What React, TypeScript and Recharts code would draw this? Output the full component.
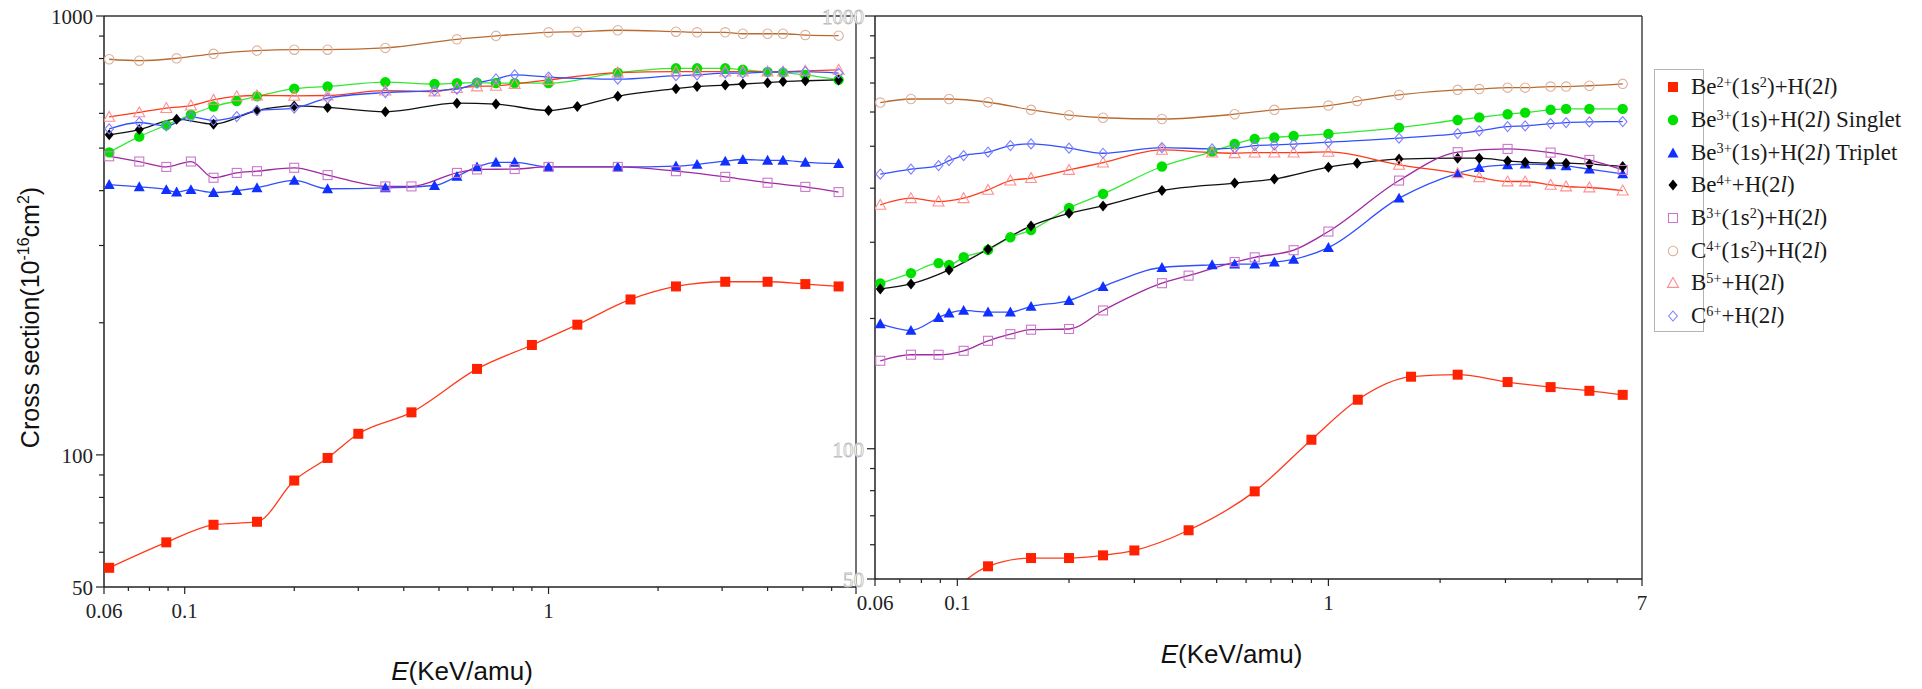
import React from "react";
import { LineChart, Line, XAxis, YAxis, ReferenceLine } from "recharts";

const SERIF = '"Liberation Serif", "Times New Roman", serif';
const SANS = '"Liberation Sans", Arial, sans-serif';

// axis ticks
const xTicks = [0.06, 0.07, 0.08, 0.09, 0.1, 0.2, 0.3, 0.4, 0.5, 0.6, 0.7, 0.8, 0.9, 1, 2, 3, 4, 5, 6, 7];
const xMajor = [0.06, 0.1, 1, 7];
const leftXLabels = [0.06, 0.1, 1];
const rightXLabels = [0.06, 0.1, 1, 7];
const yTicks = [50, 60, 70, 80, 90, 100, 200, 300, 400, 500, 600, 700, 800, 900, 1000];
const yLabels = [50, 100, 1000];

// ---- left panel (E in keV/amu, cross section in 1e-16 cm^2)
const leftBe2Energy = [0.062, 0.089, 0.12, 0.158, 0.2, 0.247, 0.3, 0.42, 0.636, 0.9, 1.2, 1.68, 2.24, 3.06, 4.0, 5.08, 6.27];
const leftBe2Sigma = [55.3, 63.2, 69.3, 70.4, 87.4, 98.4, 111.7, 125, 157, 178, 198, 226, 242, 248, 248, 245, 242];

const leftSingletEnergy = [0.062, 0.075, 0.089, 0.104, 0.12, 0.139, 0.158, 0.2, 0.247, 0.356, 0.486, 0.56, 0.636, 0.717, 0.807, 1.0, 1.55, 2.24, 2.56, 3.06, 3.42, 4.0, 4.41, 5.08, 6.27];
const leftSingletSigma = [489, 531, 564, 596, 622, 640, 656, 683, 691, 707, 700, 703, 705, 703, 703, 703, 743, 760, 760, 760, 754, 746, 743, 734, 715];

const leftTripletEnergy = [0.062, 0.075, 0.089, 0.095, 0.104, 0.12, 0.139, 0.158, 0.2, 0.247, 0.356, 0.486, 0.56, 0.636, 0.717, 0.807, 1.0, 1.55, 2.24, 2.56, 3.06, 3.42, 4.0, 4.41, 5.08, 6.27];
const leftTripletSigma = [413, 408, 402, 397, 402, 396, 400, 406, 422, 404, 406, 411, 431, 453, 464, 464, 453, 453, 455, 459, 467, 471, 469, 469, 464, 461];

const leftBe4Energy = [0.062, 0.075, 0.095, 0.12, 0.158, 0.2, 0.247, 0.356, 0.56, 0.717, 1.0, 1.2, 1.55, 2.24, 2.56, 3.06, 3.42, 4.0, 4.41, 5.08, 6.27];
const leftBe4Sigma = [536, 551, 582, 567, 609, 624, 619, 605, 633, 630, 609, 622, 656, 683, 691, 696, 700, 705, 709, 712, 715];

const leftB3Energy = [0.062, 0.075, 0.089, 0.104, 0.12, 0.139, 0.158, 0.2, 0.247, 0.356, 0.42, 0.56, 0.636, 0.807, 1.0, 1.55, 2.24, 3.06, 4.0, 5.08, 6.27];
const leftB3Sigma = [479, 466, 453, 466, 428, 439, 443, 451, 434, 409, 409, 439, 447, 448, 453, 453, 443, 430, 417, 408, 397];

const leftC4Energy = [0.062, 0.075, 0.095, 0.12, 0.158, 0.2, 0.247, 0.356, 0.56, 0.717, 1.0, 1.2, 1.55, 2.24, 2.56, 3.06, 3.42, 4.0, 4.41, 5.08, 6.27];
const leftC4Sigma = [797, 791, 801, 820, 834, 838, 838, 846, 885, 901, 918, 921, 928, 921, 918, 918, 911, 911, 911, 905, 902];

const leftB5Energy = [0.062, 0.075, 0.089, 0.104, 0.12, 0.139, 0.158, 0.2, 0.247, 0.356, 0.486, 0.56, 0.636, 0.717, 0.807, 1.0, 1.55, 2.24, 2.56, 3.06, 3.42, 4.0, 4.41, 5.08, 6.27];
const leftB5Sigma = [589, 603, 617, 625, 644, 656, 659, 658, 659, 676, 673, 685, 691, 693, 700, 715, 743, 747, 747, 747, 747, 747, 747, 750, 754];

const leftC6Energy = [0.062, 0.075, 0.089, 0.104, 0.12, 0.139, 0.158, 0.2, 0.247, 0.356, 0.486, 0.56, 0.636, 0.717, 0.807, 1.0, 1.55, 2.24, 2.56, 3.06, 3.42, 4.0, 4.41, 5.08, 6.27];
const leftC6Sigma = [553, 572, 562, 589, 578, 590, 609, 617, 650, 669, 676, 681, 703, 719, 734, 726, 718, 731, 734, 741, 741, 745, 745, 747, 741];

// ---- right panel
const rightBe2Energy = [0.095, 0.121, 0.158, 0.2, 0.247, 0.3, 0.42, 0.633, 0.9, 1.2, 1.67, 2.23, 3.04, 3.97, 5.05, 6.21];
const rightBe2Sigma = [46, 53.5, 55.9, 55.9, 56.7, 58.2, 64.8, 79.7, 104.9, 129.8, 146.7, 148.3, 142.6, 138.8, 136.1, 133.2];

const rightSingletEnergy = [0.062, 0.075, 0.089, 0.095, 0.104, 0.121, 0.139, 0.158, 0.2, 0.247, 0.356, 0.486, 0.559, 0.633, 0.715, 0.806, 1.0, 1.55, 2.23, 2.55, 3.04, 3.39, 3.97, 4.37, 5.05, 6.21];
const rightSingletSigma = [241, 254.5, 268.5, 266, 277, 288, 308, 320, 360, 388, 449, 486, 506, 520, 524, 528, 534, 552, 575, 583, 593, 598, 607, 610, 610, 610];

const rightTripletEnergy = [0.062, 0.075, 0.089, 0.095, 0.104, 0.121, 0.139, 0.158, 0.2, 0.247, 0.356, 0.486, 0.559, 0.633, 0.715, 0.806, 1.0, 1.55, 2.23, 2.55, 3.04, 3.39, 3.97, 4.37, 5.05, 6.21];
const rightTripletSigma = [194.4, 187.7, 201, 205.8, 208.7, 206.9, 206.9, 213.2, 220, 237, 262.3, 266, 267, 267, 270, 274, 291.7, 379.3, 433, 446.5, 452.9, 454.6, 452.9, 450.5, 442.6, 431.6];

const rightBe4Energy = [0.062, 0.075, 0.095, 0.121, 0.158, 0.2, 0.247, 0.356, 0.559, 0.715, 1.0, 1.195, 1.55, 2.23, 2.55, 3.04, 3.39, 3.97, 4.37, 5.05, 6.21];
const rightBe4Sigma = [234, 240.4, 259, 289.2, 327.3, 350, 364, 395, 411, 420, 447.4, 457, 467, 469.4, 469.4, 462.6, 459.4, 457, 457, 454.6, 449];

const rightB3Energy = [0.062, 0.075, 0.089, 0.104, 0.121, 0.139, 0.158, 0.2, 0.247, 0.356, 0.42, 0.559, 0.633, 0.806, 1.0, 1.55, 2.23, 3.04, 3.97, 5.05, 6.21];
const rightB3Sigma = [159.7, 164.9, 164.9, 168.4, 177.6, 184, 188.4, 189.1, 208.7, 241.3, 251.2, 270, 276.9, 287.6, 317.6, 416.6, 484.5, 493, 483.4, 465, 440.8];

const rightC4Energy = [0.062, 0.075, 0.095, 0.121, 0.158, 0.2, 0.247, 0.356, 0.559, 0.715, 1.0, 1.195, 1.55, 2.23, 2.55, 3.04, 3.39, 3.97, 4.37, 5.05, 6.21];
const rightC4Sigma = [631, 643, 643, 632, 607, 590, 582, 578, 593, 607, 621, 636, 657, 675, 678, 683, 683, 687, 687, 690, 697];

const rightB5Energy = [0.062, 0.075, 0.089, 0.104, 0.121, 0.139, 0.158, 0.2, 0.247, 0.356, 0.486, 0.559, 0.633, 0.715, 0.806, 1.0, 1.55, 2.23, 2.55, 3.04, 3.39, 3.97, 4.37, 5.05, 6.21];
const rightB5Sigma = [366, 379.3, 372.5, 379.3, 396.4, 416.6, 422, 440.8, 458.4, 490.4, 483.4, 481.8, 483.4, 483.4, 483.4, 485.2, 452.9, 433.2, 424, 414.5, 414.5, 407.3, 403.6, 401.5, 395];

const rightC6Energy = [0.062, 0.075, 0.089, 0.095, 0.104, 0.121, 0.139, 0.158, 0.2, 0.247, 0.356, 0.486, 0.559, 0.633, 0.715, 0.806, 1.0, 1.55, 2.23, 2.55, 3.04, 3.39, 3.97, 4.37, 5.05, 6.21];
const rightC6Sigma = [430.9, 442.6, 451.2, 463.3, 475.8, 484.5, 501.9, 506.4, 495, 481.8, 496.5, 493.1, 495, 501.9, 503.7, 505.6, 511, 522, 535, 542.7, 555.2, 557.2, 564.1, 567.1, 569.2, 570.1];

type Shape = "square" | "circle" | "triangle" | "diamond";

interface SeriesStyle {
    id: string
    shape: Shape
    filled: boolean
    marker: string
    line: string
    label: React.ReactNode
}

const Sup = ({ children }: { children: React.ReactNode }) => (
    <span style={{ fontSize: "0.62em", position: "relative", top: "-0.5em" }}>{children}</span>
);

const seriesStyles: SeriesStyle[] = [
    { id: "be2", shape: "square", filled: true, marker: "#FF2200", line: "#FF3A1A", label: <>Be<Sup>2+</Sup>(1s<Sup>2</Sup>)+H(2<i>l</i>)</> },
    { id: "singlet", shape: "circle", filled: true, marker: "#00E000", line: "#33E833", label: <>Be<Sup>3+</Sup>(1s)+H(2<i>l</i>) Singlet</> },
    { id: "triplet", shape: "triangle", filled: true, marker: "#1030FF", line: "#3050FF", label: <>Be<Sup>3+</Sup>(1s)+H(2<i>l</i>) Triplet</> },
    { id: "be4", shape: "diamond", filled: true, marker: "#000000", line: "#111111", label: <>Be<Sup>4+</Sup>+H(2<i>l</i>)</> },
    { id: "b3", shape: "square", filled: false, marker: "#CC77CC", line: "#A028A0", label: <>B<Sup>3+</Sup>(1s<Sup>2</Sup>)+H(2<i>l</i>)</> },
    { id: "c4", shape: "circle", filled: false, marker: "#DDB09A", line: "#B86A30", label: <>C<Sup>4+</Sup>(1s<Sup>2</Sup>)+H(2<i>l</i>)</> },
    { id: "b5", shape: "triangle", filled: false, marker: "#FF9090", line: "#FF3A1A", label: <>B<Sup>5+</Sup>+H(2<i>l</i>)</> },
    { id: "c6", shape: "diamond", filled: false, marker: "#8080FF", line: "#3050FF", label: <>C<Sup>6+</Sup>+H(2<i>l</i>)</> },
];

const toPoints = (xs: number[], ys: number[]) => xs.map((x, i) => ({ x, y: ys[i] }));

const leftData: Record<string, { x: number, y: number }[]> = {
    be2: toPoints(leftBe2Energy, leftBe2Sigma),
    singlet: toPoints(leftSingletEnergy, leftSingletSigma),
    triplet: toPoints(leftTripletEnergy, leftTripletSigma),
    be4: toPoints(leftBe4Energy, leftBe4Sigma),
    b3: toPoints(leftB3Energy, leftB3Sigma),
    c4: toPoints(leftC4Energy, leftC4Sigma),
    b5: toPoints(leftB5Energy, leftB5Sigma),
    c6: toPoints(leftC6Energy, leftC6Sigma),
};

const rightData: Record<string, { x: number, y: number }[]> = {
    be2: toPoints(rightBe2Energy, rightBe2Sigma),
    singlet: toPoints(rightSingletEnergy, rightSingletSigma),
    triplet: toPoints(rightTripletEnergy, rightTripletSigma),
    be4: toPoints(rightBe4Energy, rightBe4Sigma),
    b3: toPoints(rightB3Energy, rightB3Sigma),
    c4: toPoints(rightC4Energy, rightC4Sigma),
    b5: toPoints(rightB5Energy, rightB5Sigma),
    c6: toPoints(rightC6Energy, rightC6Sigma),
};

function Marker({ shape, filled, color, cx, cy }: { shape: Shape, filled: boolean, color: string, cx: number, cy: number }) {
    const fill = filled ? color : "none";
    const stroke = filled ? "none" : color;
    if (shape === "square") {
        const h = filled ? 5 : 4.5;
        return <rect x={cx - h} y={cy - h} width={h * 2} height={h * 2} fill={fill} stroke={stroke} strokeWidth={1.1} />;
    }
    if (shape === "circle") {
        return <circle cx={cx} cy={cy} r={filled ? 5.2 : 4.7} fill={fill} stroke={stroke} strokeWidth={1.1} />;
    }
    if (shape === "triangle") {
        const h = 5.5;
        return <polygon points={`${cx},${cy - h} ${cx + h},${cy + h * 0.8} ${cx - h},${cy + h * 0.8}`} fill={fill} stroke={stroke} strokeWidth={1.1} />;
    }
    const w = filled ? 4.5 : 4.3;
    const h = filled ? 5.5 : 5;
    return <polygon points={`${cx},${cy - h} ${cx + w},${cy} ${cx},${cy + h} ${cx - w},${cy}`} fill={fill} stroke={stroke} strokeWidth={1.1} />;
}

const renderDot = (st: SeriesStyle) => (p: any) => {
    if (p.cx == null || p.cy == null) return <g key={`${st.id}-${p.index}`} />;
    return <Marker key={`${st.id}-${p.index}`} shape={st.shape} filled={st.filled} color={st.marker} cx={p.cx} cy={p.cy} />;
};

function XTick(props: any) {
    const { x, y, payload, labels } = props;
    const v = payload.value;
    const major = xMajor.includes(v);
    return (
        <g>
            <line x1={x} x2={x} y1={y} y2={y + (major ? 7 : 4)} stroke="#222" strokeWidth={1.2} />
            {labels.includes(v) ?
                <text x={x} y={y + 31} textAnchor="middle" fontFamily={SERIF} fontSize={21} fill="#222">{v}</text> : null}
        </g>
    );
}

function YTick(props: any) {
    const { x, y, payload, ghost } = props;
    const v = payload.value;
    const major = yLabels.includes(v);
    const len = major ? (ghost && v === 1000 ? 10 : 8) : 5;
    return (
        <g>
            <line x1={x - len} x2={x} y1={y} y2={y} stroke="#222" strokeWidth={1.2} />
            {major ?
                <text x={x - 11} y={y + 8} textAnchor="end" fontFamily={SERIF} fontSize={21}
                    fill={ghost ? "#ffffff" : "#222"} stroke={ghost ? "#bdbdbd" : "none"} strokeWidth={ghost ? 0.8 : 0}>{v}</text> : null}
        </g>
    );
}

function YTitle(props: any) {
    const { viewBox } = props;
    const cx = viewBox.x + 39;
    const cy = viewBox.y + viewBox.height / 2 + 16;
    return (
        <text x={cx} y={cy} transform={`rotate(-90 ${cx} ${cy})`} textAnchor="middle" fontFamily={SANS} fontSize={25} fill="#111">
            Cross section(10<tspan dy={-10} fontSize={16}>-16</tspan><tspan dy={10}>cm</tspan><tspan dy={-10} fontSize={16}>2</tspan><tspan dy={10}>)</tspan>
        </text>
    );
}

function XTitle(props: any) {
    const { viewBox, dx, baseline } = props;
    return (
        <text x={viewBox.x + viewBox.width / 2 + dx} y={viewBox.y + baseline} textAnchor="middle" fontFamily={SANS} fontSize={26} fill="#111">
            <tspan fontStyle="italic">E</tspan>(KeV/amu)
        </text>
    );
}

interface PanelProps {
    width: number
    margin: { top: number, right: number, bottom: number, left: number }
    yAxisWidth: number
    data: Record<string, { x: number, y: number }[]>
    xLabels: number[]
    ghostY: boolean
    titleDx: number
    titleBaseline: number
    showYTitle: boolean
}

function Panel({ width, margin, yAxisWidth, data, xLabels, ghostY, titleDx, titleBaseline, showYTitle }: PanelProps) {
    return (
        <LineChart width={width} height={689} margin={margin}>
            <XAxis type="number" dataKey="x" scale="log" domain={[0.06, 7]} allowDataOverflow
                ticks={xTicks} interval={0} tickSize={0} tickMargin={0} tickLine={false}
                axisLine={{ stroke: "#222", strokeWidth: 1.5 }} height={30}
                tick={<XTick labels={xLabels} />}
                label={<XTitle dx={titleDx} baseline={titleBaseline} />} />
            <YAxis type="number" dataKey="y" scale="log" domain={[50, 1000]} allowDataOverflow
                ticks={yTicks} interval={0} tickSize={0} tickMargin={0} tickLine={false}
                axisLine={{ stroke: "#222", strokeWidth: 1.5 }} width={yAxisWidth}
                tick={<YTick ghost={ghostY} />}
                label={showYTitle ? <YTitle /> : undefined} />
            <ReferenceLine y={1000} stroke="#333" strokeWidth={1.5} />
            <ReferenceLine x={7} stroke="#444" strokeWidth={1.5} />
            {seriesStyles.map((st) => (
                <Line key={st.id} data={data[st.id]} dataKey="y" type="monotone"
                    stroke={st.line} strokeWidth={1.3} dot={renderDot(st)} activeDot={false}
                    isAnimationActive={false} />
            ))}
        </LineChart>
    );
}

function LegendBox() {
    return (
        <div style={{
            position: "absolute", left: 1654, top: 69, width: 50, height: 263,
            border: "1px solid #b4b4b4", boxSizing: "border-box", paddingTop: 1,
        }}>
            {seriesStyles.map((st) => (
                <div key={st.id} style={{
                    height: 32.7, display: "flex", alignItems: "center", whiteSpace: "nowrap",
                    fontFamily: SERIF, fontSize: 23, color: "#1a1a1a",
                }}>
                    <svg width={14} height={14} style={{ marginLeft: 11, marginRight: 11, flex: "none" }}>
                        <Marker shape={st.shape} filled={st.filled} color={st.marker} cx={7} cy={7} />
                    </svg>
                    <span>{st.label}</span>
                </div>
            ))}
        </div>
    );
}

export default function App() {
    return (
        <div style={{ position: "absolute", left: 0, top: 0, width: 1922, height: 689, background: "#fff", overflow: "hidden" }}>
            <div style={{ position: "absolute", left: 0, top: 0 }}>
                <Panel width={870} margin={{ top: 16, right: 14, bottom: 72, left: 0 }} yAxisWidth={104}
                    data={leftData} xLabels={leftXLabels} ghostY={false} titleDx={-18} titleBaseline={93} showYTitle />
            </div>
            <div style={{ position: "absolute", left: 800, top: 0 }}>
                <Panel width={1122} margin={{ top: 16, right: 280, bottom: 80, left: 0 }} yAxisWidth={75}
                    data={rightData} xLabels={rightXLabels} ghostY titleDx={-27} titleBaseline={84} showYTitle={false} />
            </div>
            <LegendBox />
        </div>
    );
}
